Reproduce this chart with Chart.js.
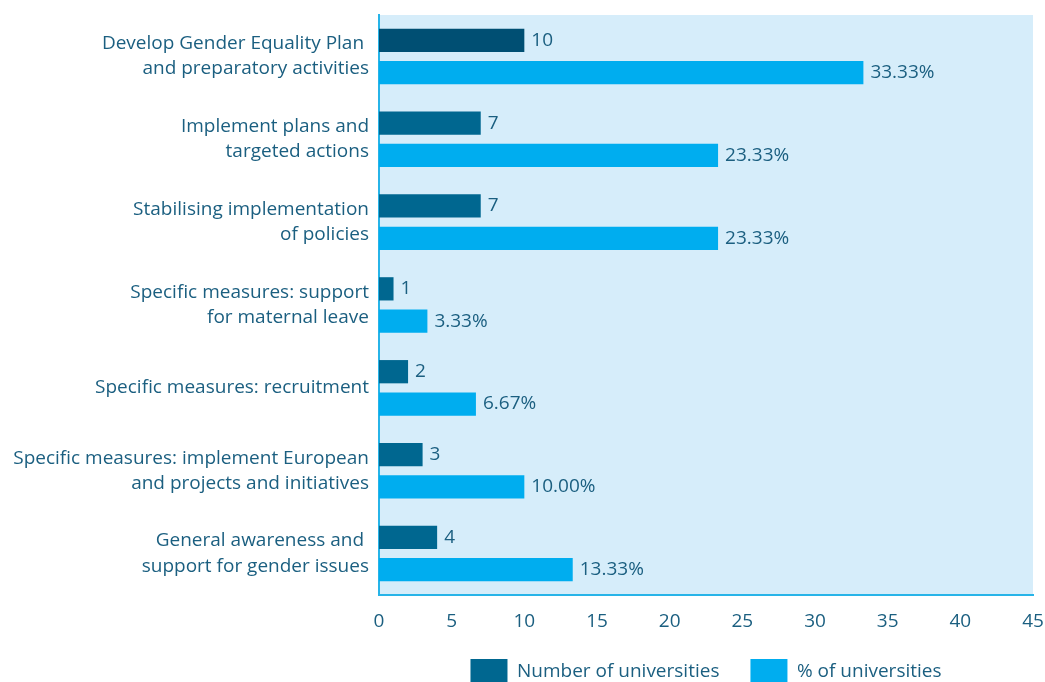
<!DOCTYPE html>
<html>
<head>
<meta charset="utf-8">
<script src="https://cdn.jsdelivr.net/npm/chart.js@4.4.0/dist/chart.umd.min.js"></script>
<style>
  html, body { margin: 0; padding: 0; background: #fff; }
  #wrap { width: 1045px; height: 682px; }
</style>
</head>
<body>
<div id="wrap"><canvas id="myChart"></canvas></div>
<script>
// datos del grafico
const categorias = [
    ['Develop Gender Equality Plan ', 'and preparatory activities'],
    ['Implement plans and', 'targeted actions'],
    ['Stabilising implementation', 'of policies'],
    ['Specific measures: support', 'for maternal leave'],
    'Specific measures: recruitment',
    ['Specific measures: implement European', 'and projects and initiatives'],
    ['General awareness and ', 'support for gender issues']
];
const numUniversidades = [10, 7, 7, 1, 2, 3, 4];
const pctUniversidades = [33.33, 23.33, 23.33, 3.33, 6.67, 10.00, 13.33];
const ticksX = [0, 5, 10, 15, 20, 25, 30, 35, 40, 45];

const colorTexto = '#1b5f80';
const colorBorde = '#27b4e8';
const fuente = "'Open Sans', sans-serif";

// fondo celeste del area del grafico
const fondoPlugin = {
    id: 'fondo',
    beforeDraw(chart) {
        const { ctx, chartArea } = chart;
        ctx.save();
        ctx.fillStyle = '#d6edfa';
        ctx.fillRect(chartArea.left, chartArea.top, chartArea.right - chartArea.left, chartArea.bottom - chartArea.top);
        ctx.restore();
    }
};

// la leyenda ocupa menos alto (el padding grande es solo para separar los items)
const leyendaAltoPlugin = {
    id: 'leyendaAlto',
    beforeLayout(chart) {
        const lg = chart.legend;
        if (lg && !lg._ajustada) {
            const fitOriginal = lg.fit.bind(lg);
            lg.fit = function () {
                fitOriginal();
                this.height = 54;
            };
            lg._ajustada = true;
        }
    }
};

// etiquetas de valor al final de cada barra
const etiquetasPlugin = {
    id: 'etiquetas',
    afterDatasetsDraw(chart) {
        const ctx = chart.ctx;
        ctx.save();
        ctx.fillStyle = colorTexto;
        ctx.font = '19px ' + fuente;
        ctx.textBaseline = 'middle';
        ctx.textAlign = 'left';
        chart.data.datasets.forEach((ds, i) => {
            const meta = chart.getDatasetMeta(i);
            meta.data.forEach((bar, j) => {
                const v = ds.data[j];
                const txt = i === 0 ? String(v) : v.toFixed(2) + '%';
                ctx.fillText(txt, bar.x + 7, bar.y);
            });
        });
        ctx.restore();
    }
};

const coloresOscuros = numUniversidades.map((v, i) => i === 0 ? '#004f73' : '#006790');

const ctx = document.getElementById('myChart');
new Chart(ctx, {
    type: 'bar',
    data: {
        labels: categorias,
        datasets: [
            {
                label: 'Number of universities',
                data: numUniversidades,
                backgroundColor: coloresOscuros,
                categoryPercentage: 0.78,
                barPercentage: 0.72
            },
            {
                label: '% of universities',
                data: pctUniversidades,
                backgroundColor: '#00adef',
                categoryPercentage: 0.78,
                barPercentage: 0.72
            }
        ]
    },
    options: {
        indexAxis: 'y',
        responsive: true,
        maintainAspectRatio: false,
        animation: false,
        layout: { padding: { top: 15, right: 12, left: 0, bottom: 0 } },
        scales: {
            x: {
                min: 0,
                max: 45,
                afterBuildTicks(scale) {
                    scale.ticks = ticksX.map(v => ({ value: v }));
                },
                afterFit(scale) {
                    scale.height = 33;
                    scale.paddingLeft = 0;
                    scale.paddingRight = 0;
                    // que no se recorten los numeros del eje
                    scale._computeLabelArea = function () {
                        return { top: this.top, left: 0, bottom: this.chart.height, right: this.chart.width };
                    };
                },
                grid: { display: false, drawTicks: false },
                border: { display: true, color: colorBorde, width: 2 },
                ticks: { color: colorTexto, font: { family: fuente, size: 19 }, padding: 15 }
            },
            y: {
                afterFit(scale) {
                    scale.width = 379;
                    scale.paddingTop = 0;
                    scale.paddingBottom = 0;
                },
                grid: { display: false, drawTicks: false },
                border: { display: true, color: colorBorde, width: 2 },
                ticks: { color: colorTexto, font: { family: fuente, size: 19, lineHeight: 1.32 }, padding: 10 }
            }
        },
        plugins: {
            legend: {
                position: 'bottom',
                fullSize: false,
                labels: {
                    color: colorTexto,
                    font: { family: fuente, size: 19 },
                    boxWidth: 37,
                    boxHeight: 25,
                    padding: 31,
                    generateLabels(chart) {
                        return [
                            { text: 'Number of universities', fillStyle: '#006790', strokeStyle: '#006790', lineWidth: 0, fontColor: colorTexto, datasetIndex: 0 },
                            { text: '% of universities', fillStyle: '#00adef', strokeStyle: '#00adef', lineWidth: 0, fontColor: colorTexto, datasetIndex: 1 }
                        ];
                    }
                }
            },
            tooltip: { enabled: false }
        }
    },
    plugins: [fondoPlugin, leyendaAltoPlugin, etiquetasPlugin]
});
</script>
</body>
</html>
